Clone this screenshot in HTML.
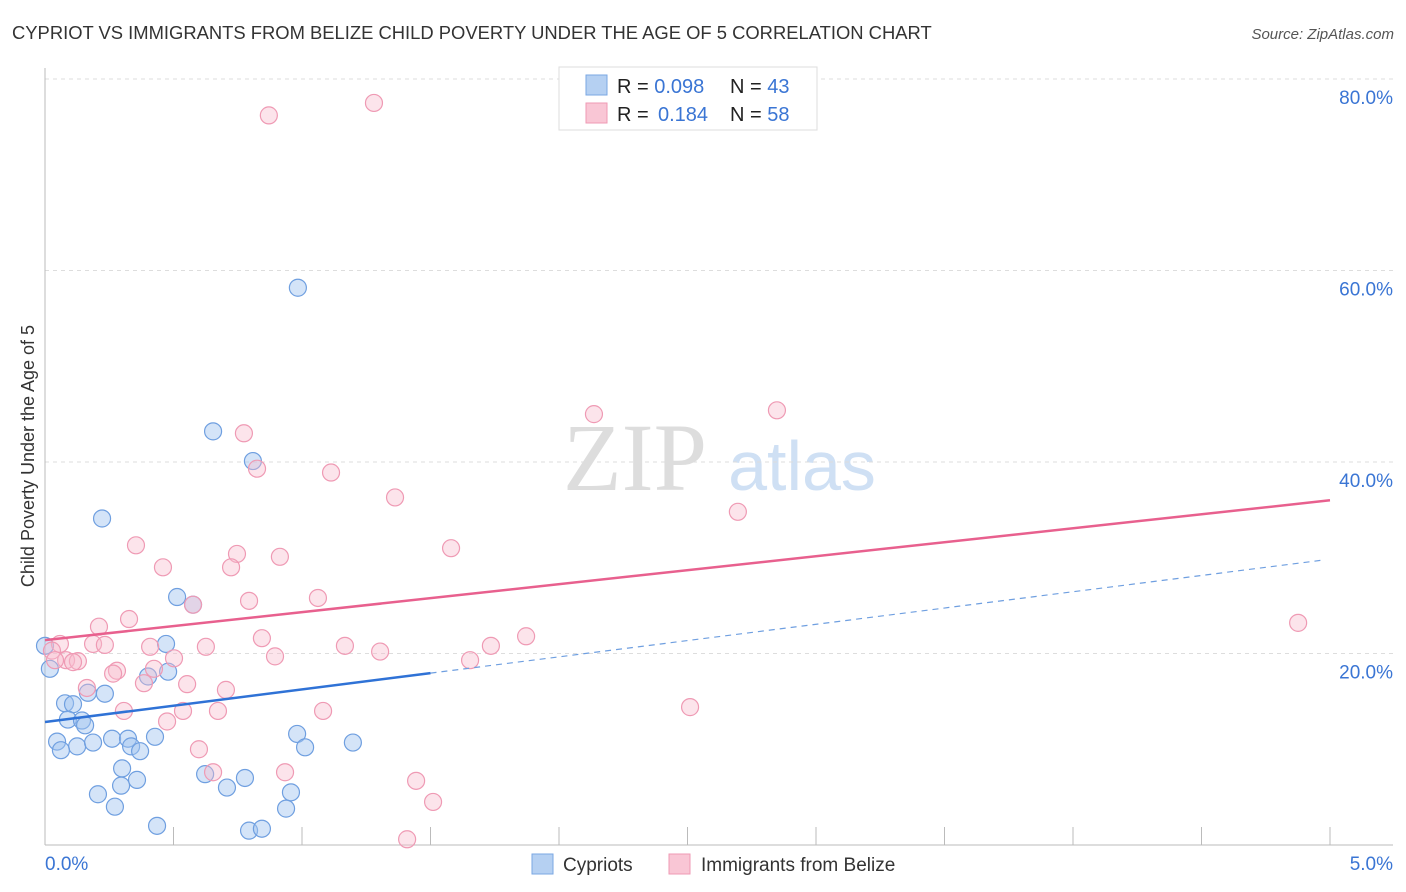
<!DOCTYPE html>
<html><head><meta charset="utf-8"><style>
body{margin:0;background:#fff;font-family:"Liberation Sans",sans-serif;}
svg{display:block}
</style></head><body>
<svg id="chart" width="1406" height="892" xmlns="http://www.w3.org/2000/svg">
<text x="12" y="39" font-size="18.4" fill="#333">CYPRIOT VS IMMIGRANTS FROM BELIZE CHILD POVERTY UNDER THE AGE OF 5 CORRELATION CHART</text>
<text x="1394" y="39" font-size="15" fill="#555" font-style="italic" text-anchor="end">Source: ZipAtlas.com</text>
<text x="0" y="0" transform="translate(34,456) rotate(-90)" font-size="18" fill="#333" text-anchor="middle">Child Poverty Under the Age of 5</text>
<g><text x="635" y="490" font-family="Liberation Serif,serif" font-size="96" fill="#ddd" text-anchor="middle">ZIP</text><text x="802" y="490" font-size="70" fill="#cfe0f4" text-anchor="middle">atlas</text></g>
<g id="grid"></g><g id="axes"></g><g id="marks"></g>
<g>
<rect x="559" y="67" width="258" height="63" fill="#fff" stroke="#ddd"/>
<rect x="586" y="75" width="21" height="20" fill="#b5d0f2" stroke="#7aa7e3"/>
<rect x="586" y="103" width="21" height="20" fill="#f9c6d5" stroke="#ef9ab4"/>
<text x="617" y="93" font-size="20" fill="#222">R = <tspan fill="#3a75d4">0.098</tspan><tspan x="730">N = </tspan><tspan fill="#3a75d4">43</tspan></text>
<text x="617" y="121" font-size="20" fill="#222">R = <tspan fill="#3a75d4" x="658">0.184</tspan><tspan x="730">N = </tspan><tspan fill="#3a75d4">58</tspan></text>
</g>
<g>
<rect x="532" y="854" width="21" height="20" fill="#b5d0f2" stroke="#7aa7e3"/>
<text x="563" y="871" font-size="19" fill="#333">Cypriots</text>
<rect x="669" y="854" width="21" height="20" fill="#f9c6d5" stroke="#ef9ab4"/>
<text x="701" y="871" font-size="19" fill="#333">Immigrants from Belize</text>
</g>
</svg>
<script>
const yTicks=[20,40,60,80];
const xTickLabels=["0.0%","5.0%"];
const blueX=[0.984,0.654,0.222,0.809,0.514,0.576,0.471,0.479,0.401,0.0,0.019,0.167,0.233,0.078,0.109,0.089,0.144,0.156,0.047,0.125,0.187,0.062,0.261,0.323,0.335,0.37,0.428,0.981,1.012,1.198,0.3,0.358,0.623,0.778,0.296,0.206,0.708,0.957,0.272,0.938,0.436,0.794,0.844];
const blueY=[58.2,43.2,34.1,40.1,25.9,25.1,21.0,18.1,17.6,20.8,18.4,15.9,15.8,14.8,14.7,13.1,13.0,12.5,10.8,10.3,10.7,9.9,11.1,11.1,10.3,9.8,11.3,11.6,10.2,10.7,8.0,6.8,7.4,7.0,6.2,5.3,6.0,5.5,4.0,3.8,2.0,1.5,1.7];
const pinkX=[1.28,0.871,2.136,2.848,0.774,0.825,1.113,1.362,2.696,0.354,1.58,0.747,0.914,0.459,0.724,0.576,0.794,1.062,0.327,0.21,4.876,1.872,0.844,1.735,0.187,0.233,1.167,0.409,0.626,0.058,0.027,1.304,0.082,0.128,0.109,0.502,0.895,1.654,0.28,0.424,0.265,0.385,0.553,0.163,0.704,0.307,0.537,0.673,1.082,2.51,0.475,0.599,0.934,0.654,1.444,1.51,1.409,0.039];
const pinkY=[77.5,76.2,45.0,45.4,43.0,39.3,38.9,36.3,34.8,31.3,31.0,30.4,30.1,29.0,29.0,25.1,25.5,25.8,23.6,22.8,23.2,21.8,21.6,20.8,21.0,20.9,20.8,20.7,20.7,21.0,20.3,20.2,19.3,19.2,19.1,19.5,19.7,19.3,18.2,18.4,17.9,16.9,16.8,16.4,16.2,14.0,14.0,14.0,14.0,14.4,12.9,10.0,7.6,7.6,6.7,4.5,0.6,19.3];
const blueFit=[12.85,3.4];   // intercept, slope per %
const pinkFit=[21.4,2.92];
const blueSolidEnd=1.5, blueDashEnd=4.98, pinkEnd=5.0;
const NS="http://www.w3.org/2000/svg";
const X0=45,X1=1330,Y0=845,PPY=9.575;
const xs=v=>X0+v/5*(X1-X0), ys=v=>Y0-v*PPY;
function mk(t,a,p){const e=document.createElementNS(NS,t);for(const k in a)e.setAttribute(k,a[k]);p.appendChild(e);return e;}
const grid=document.getElementById('grid'),axes=document.getElementById('axes'),marks=document.getElementById('marks');
yTicks.forEach(t=>{
 const l=mk('line',{x1:X0,x2:1393,y1:ys(t),y2:ys(t),stroke:'#ddd','stroke-dasharray':'4,4'},grid);
 
 
 const tx=mk('text',{x:1393,y:ys(t)+25,'font-size':19,fill:'#3a75d4','text-anchor':'end'},axes);
 tx.textContent=t.toFixed(1)+'%';
 
 
});
const ya=mk('line',{x1:X0,x2:X0,y1:68,y2:Y0,stroke:'#bbb'},axes);


const xa=mk('line',{x1:X0,x2:1393,y1:Y0,y2:Y0,stroke:'#bbb'},axes);


for(let i=1;i<=10;i++){const x=X0+i*(X1-X0)/10;
 const t=mk('line',{x1:x,x2:x,y1:Y0-18,y2:Y0,stroke:'#bbb'},axes);
 
 }
[[0,45,'start'],[1,1393,'end']].forEach(([i,x,a])=>{
 const t=mk('text',{x:x,y:870,'font-size':19,fill:'#3a75d4','text-anchor':a},axes);
 t.textContent=xTickLabels[i];
 
 });
blueX.forEach((v,i)=>{const c=mk('circle',{cx:xs(v),cy:ys(blueY[i]),r:8.5,fill:'rgba(160,196,240,0.45)',stroke:'#6f9fe0','stroke-width':1.2},marks);
 
 });
pinkX.forEach((v,i)=>{const c=mk('circle',{cx:xs(v),cy:ys(pinkY[i]),r:8.5,fill:'rgba(248,188,206,0.4)',stroke:'#ef9ab4','stroke-width':1.2},marks);
 
 });
const f=(p,x)=>p[0]+p[1]*x;
const pl=mk('line',{x1:xs(0),y1:ys(f(pinkFit,0)),x2:xs(pinkEnd),y2:ys(f(pinkFit,pinkEnd)),stroke:'#e8608e','stroke-width':2.5},marks);


const bl=mk('line',{x1:xs(0),y1:ys(f(blueFit,0)),x2:xs(blueSolidEnd),y2:ys(f(blueFit,blueSolidEnd)),stroke:'#2f72d6','stroke-width':2.5},marks);


const bd=mk('line',{x1:xs(blueSolidEnd),y1:ys(f(blueFit,blueSolidEnd)),x2:xs(blueDashEnd),y2:ys(f(blueFit,blueDashEnd)),stroke:'#6f9fe0','stroke-width':1.2,'stroke-dasharray':'6,5'},marks);


</script>
</body></html>
